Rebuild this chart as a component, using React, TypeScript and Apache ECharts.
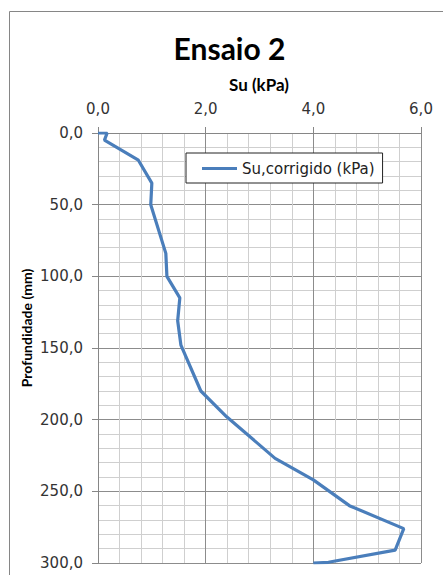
import React, { useEffect, useRef } from "react";
import * as echarts from "echarts";

const depthMm = [0, 0, 5, 19, 35, 50, 84, 100, 115, 131, 148, 180, 198, 227, 242, 260, 276, 291, 299.5, 300];
const suKPa = [0, 0.17, 0.12, 0.75, 1.0, 0.98, 1.26, 1.28, 1.52, 1.48, 1.54, 1.91, 2.39, 3.29, 4.0, 4.67, 5.68, 5.52, 4.28, 4.0];
const seriesName = "Su,corrigido (kPa)";
const chartTitle = "Ensaio 2";
const xTitle = "Su (kPa)";
const yTitle = "Profundidade (mm)";

const FONT = "Lato, 'Noto Sans', sans-serif";
const LABEL_FONT = "'DejaVu Sans', 'Noto Sans', sans-serif";
const fmt = (v: number) => v.toFixed(1).replace(".", ",");

export default function App() {
  const ref = useRef<HTMLDivElement>(null);
  useEffect(() => {
    document.body.style.margin = "0";
    const chart = echarts.init(ref.current!, null, { renderer: "svg" });
    const data = suKPa.map((s, i) => [s, depthMm[i]]);
    chart.setOption({
      animation: false,
      backgroundColor: "#ffffff",
      grid: { left: 98, top: 133, right: 22, bottom: 12, containLabel: false },
      graphic: [
        {
          type: "rect",
          z: -10,
          shape: { x: 9.5, y: 11.5, width: 600, height: 700 },
          style: { fill: "none", stroke: "#868686", lineWidth: 1 },
        },
        {
          type: "text",
          x: 229.5,
          y: 48,
          style: {
            text: chartTitle,
            align: "center",
            verticalAlign: "middle",
            font: `bold 30px ${FONT}`,
            fill: "#000",
          },
        },
        {
          type: "text",
          x: 259,
          y: 84,
          style: {
            text: xTitle,
            align: "center",
            verticalAlign: "middle",
            font: `bold 17px ${FONT}`,
            fill: "#000",
          },
        },
        {
          type: "text",
          x: 26,
          y: 328,
          rotation: Math.PI / 2,
          style: {
            text: yTitle,
            align: "center",
            verticalAlign: "middle",
            font: `bold 14px ${FONT}`,
            fill: "#000",
          },
        },
      ],
      legend: {
        left: 186,
        top: 153,
        orient: "horizontal",
        padding: [8, 8, 7, 16],
        backgroundColor: "#ffffff",
        borderColor: "#222",
        borderWidth: 1,
        itemWidth: 35,
        itemHeight: 3,
        icon: "rect",
        textStyle: { fontFamily: LABEL_FONT, fontSize: 15, color: "#222" },
        data: [{ name: seriesName, icon: "rect" }],
      },
      xAxis: {
        type: "value",
        position: "top",
        min: 0,
        max: 6,
        interval: 2,
        axisLine: { show: true, lineStyle: { color: "#868686" } },
        axisTick: { show: true, inside: false, length: 6, lineStyle: { color: "#868686" } },
        axisLabel: { formatter: fmt, margin: 17, fontFamily: LABEL_FONT, fontSize: 15, color: "#333" },
        splitLine: { show: true, lineStyle: { color: "#8c8c8c", width: 1 } },
        minorTick: { show: false, splitNumber: 5 },
        minorSplitLine: { show: true, lineStyle: { color: "#cfcfcf", width: 1 } },
      },
      yAxis: {
        type: "value",
        inverse: true,
        min: 0,
        max: 300,
        interval: 50,
        axisLine: { show: true, onZero: false, lineStyle: { color: "#868686" } },
        axisTick: { show: true, inside: false, length: 6, lineStyle: { color: "#868686" } },
        axisLabel: { formatter: fmt, margin: 15, fontFamily: LABEL_FONT, fontSize: 15, color: "#333" },
        splitLine: { show: true, lineStyle: { color: "#8c8c8c", width: 1 } },
        minorTick: { show: false, splitNumber: 5 },
        minorSplitLine: { show: true, lineStyle: { color: "#cfcfcf", width: 1 } },
      },
      series: [
        {
          name: seriesName,
          type: "line",
          data,
          symbol: "none",
          clip: true,
          lineStyle: { color: "#4a7ebb", width: 3.2 },
          itemStyle: { color: "#4a7ebb" },
        },
      ],
    });
    return () => chart.dispose();
  }, []);
  return <div ref={ref} style={{ width: 443, height: 575 }} />;
}
